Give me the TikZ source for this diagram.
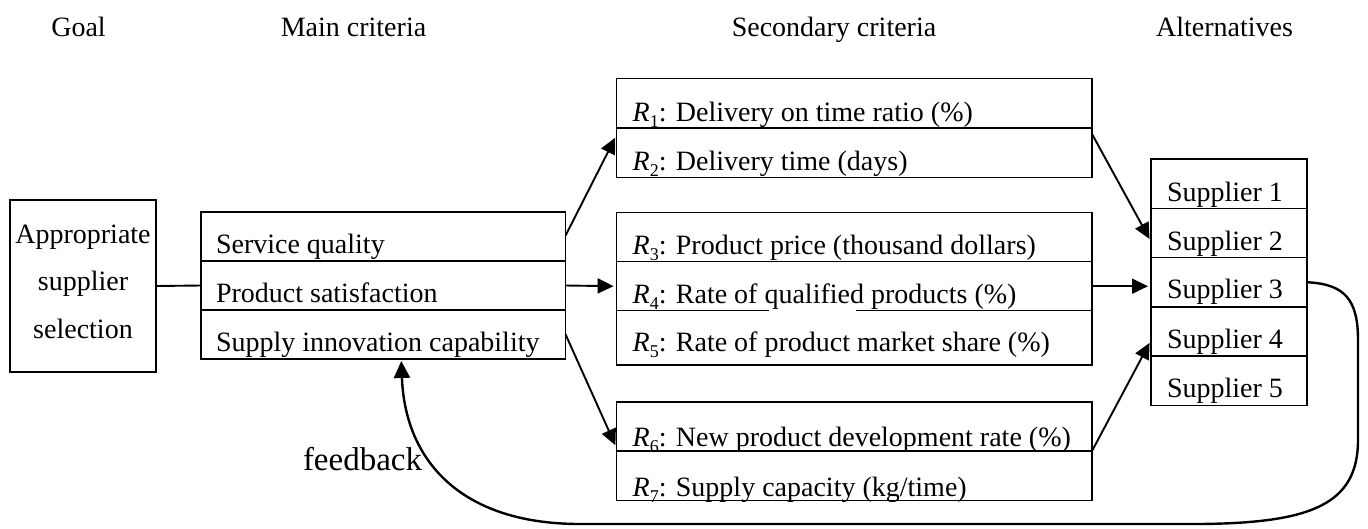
\documentclass[tikz,border=0pt]{standalone}
\usepackage{fontspec}
\setmainfont{Liberation Serif}
\usetikzlibrary{arrows.meta}
\newcommand\Rsub[1]{\textit{R}\raisebox{-6pt}{\fontsize{18}{18}\selectfont #1}}
\begin{document}
\begin{tikzpicture}[x=1pt,y=-1pt,
  every node/.style={inner sep=0pt, outer sep=0pt},
  lbl/.style={font=\fontsize{28}{34}\selectfont, anchor=base west},
  hdr/.style={font=\fontsize{28}{34}\selectfont, anchor=base},
  cell/.style={draw, line width=1.5pt, anchor=north west},
  maincell/.style={cell, minimum width=364.6pt, minimum height=49pt},
  seccell/.style={cell, minimum width=475.4pt},
  supcell/.style={cell, minimum width=156pt, minimum height=49.3pt},
  arr/.style={line width=1.9pt, -{Triangle[length=16pt,width=15pt]}, shorten >=3pt},
]
\fill[white] (0,0) rectangle (1368,528);
\useasboundingbox (0,0) rectangle (1368,528);

% headers
\node[hdr] (hgoal) at (78.5,36) {Goal};
\node[hdr] (hmain) at (353.5,36) {Main criteria};
\node[hdr] (hsec) at (834,36) {Secondary criteria};
\node[hdr] (halt) at (1224.5,36) {Alternatives};

% goal
\node[cell, line width=2.4pt, minimum width=146pt, minimum height=172pt] (goal) at (10,200) {};
\node[hdr] (g1) at (83,243) {Appropriate};
\node[hdr] (g2) at (83,290.5) {supplier};
\node[hdr] (g3) at (83,338) {selection};

% main criteria
\node[maincell] (m1) at (201,212) {};
\node[maincell] (m2) at (201,261) {};
\node[maincell] (m3) at (201,310) {};
\node[lbl] (m1t) at (216,253) {Service quality};
\node[lbl] (m2t) at (216,302) {Product satisfaction};
\node[lbl] (m3t) at (216,351.5) {Supply innovation capability};

% secondary criteria
\node[seccell, minimum height=49.5pt] (r1) at (616.6,78.5) {};
\node[seccell, minimum height=49.5pt] (r2) at (616.6,128) {};
\node[seccell, minimum height=49pt] (r3) at (616.6,212.7) {};
\node[seccell, minimum height=49pt] (r4) at (616.6,261.7) {};
\node[seccell, minimum height=54.3pt] (r5) at (616.6,310.7) {};
\node[seccell, minimum height=49pt] (r6) at (616.6,402) {};
\node[seccell, minimum height=49.7pt] (r7) at (616.6,451) {};
\draw[white, line width=2.6pt] (769,310.7) -- (856,310.7);
\node[lbl] (r1t) at (632.7,121.7) {\Rsub{1}: Delivery on time ratio (\%)};
\node[lbl] (r2t) at (632.7,170) {\Rsub{2}: Delivery time (days)};
\node[lbl] (r3t) at (632.7,254) {\Rsub{3}: Product price (thousand dollars)};
\node[lbl] (r4t) at (632.7,303) {\Rsub{4}: Rate of qualified products (\%)};
\node[lbl] (r5t) at (632.7,351.7) {\Rsub{5}: Rate of product market share (\%)};
\node[lbl] (r6t) at (632.7,446.7) {\Rsub{6}: New product development rate (\%)};
\node[lbl] (r7t) at (632.7,496) {\Rsub{7}: Supply capacity (kg/time)};

% alternatives
\node[supcell] (s1) at (1151,159) {};
\node[supcell] (s2) at (1151,208.3) {};
\node[supcell] (s3) at (1151,257.6) {};
\node[supcell] (s4) at (1151,306.9) {};
\node[supcell] (s5) at (1151,356.2) {};
\node[lbl] (s1t) at (1167,201.7) {Supplier 1};
\node[lbl] (s2t) at (1167,250) {Supplier 2};
\node[lbl] (s3t) at (1167,298.5) {Supplier 3};
\node[lbl] (s4t) at (1167,348) {Supplier 4};
\node[lbl] (s5t) at (1167,397) {Supplier 5};

% connectors
\draw[line width=1.9pt] (goal.east) -- (m2.west);
\draw[arr] ([yshift=1pt]m1.east) -- ([yshift=-7pt]r2.north west);
\draw[arr] (m2.east) -- (r4.west);
\draw[arr] (m3.east) -- ([yshift=3pt]r6.south west);
\draw[arr] ([yshift=-6pt]r1.south east) -- ([yshift=16pt]s2.south west);
\draw[arr] (r4.east) -- (r4.east -| s3.west);
\draw[arr] (r6.south east) -- ([yshift=16pt]s4.south west);

% feedback
\draw[line width=2.4pt, -{Triangle[length=17pt,width=16pt]}]
  (s3.east) .. controls (1345,284) and (1358,300) .. (1358,340)
  -- (1358,440) .. controls (1358,505) and (1310,523) .. (1200,524)
  -- (580,524) .. controls (460,524) and (405,460) .. ([xshift=18pt,yshift=-2pt]m3.south);
\node[font=\fontsize{33}{40}\selectfont, anchor=base west] (fb) at (303,470) {feedback};
\end{tikzpicture}
\end{document}
